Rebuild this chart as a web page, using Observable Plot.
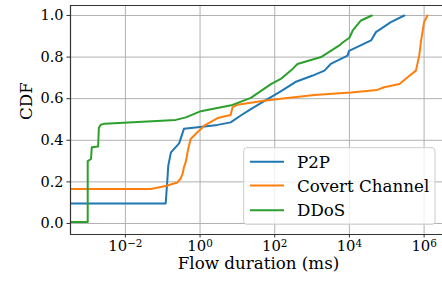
<!DOCTYPE html>
<html><head><meta charset="utf-8">
<script src="https://cdn.jsdelivr.net/npm/d3@7"></script>
<script src="https://cdn.jsdelivr.net/npm/@observablehq/plot@0.6"></script>
<style>body{margin:0;background:#fff} #chart svg{display:block;overflow:hidden}</style>
</head><body><div id="chart"></div>
<script>
const seriesNames = ["P2P", "Covert Channel", "DDoS"];
const seriesColors = ["#1f77b4", "#ff7f0e", "#2ca02c"];

const p2pDuration = [3e-4, 0.12, 0.132, 0.141, 0.166, 0.275, 0.37, 0.76, 2.95, 6.6, 12.3, 22.9, 67.6, 145, 355, 1000, 2140, 3160, 8900, 9770, 38000, 51300, 129000, 295000];
const p2pCdf      = [0.096, 0.096, 0.2, 0.278, 0.342, 0.385, 0.455, 0.462, 0.474, 0.486, 0.519, 0.55, 0.60, 0.635, 0.68, 0.71, 0.735, 0.767, 0.807, 0.83, 0.88, 0.92, 0.968, 1.0];

const covertDuration = [3e-4, 0.048, 0.12, 0.245, 0.30, 0.34, 0.37, 0.42, 0.48, 0.56, 0.76, 1.29, 2.95, 6.6, 7.4, 10, 52, 145, 1150, 11000, 56000, 85000, 219000, 363000, 603000, 741000, 832000, 1000000, 1230000];
const covertCdf      = [0.166, 0.166, 0.18, 0.197, 0.215, 0.238, 0.27, 0.30, 0.358, 0.406, 0.43, 0.47, 0.507, 0.522, 0.558, 0.571, 0.59, 0.60, 0.618, 0.63, 0.642, 0.655, 0.671, 0.703, 0.735, 0.807, 0.88, 0.968, 1.0];

const ddosDuration = [3e-4, 9.8e-4, 9.8e-4, 1.2e-3, 1.26e-3, 1.86e-3, 1.95e-3, 2.19e-3, 2.8e-3, 0.224, 0.417, 1.05, 7.4, 22.9, 79, 145, 269, 407, 1740, 5370, 6610, 10000, 12300, 20400, 39800];
const ddosCdf      = [0.007, 0.007, 0.30, 0.31, 0.366, 0.37, 0.46, 0.475, 0.48, 0.498, 0.51, 0.54, 0.57, 0.604, 0.67, 0.695, 0.735, 0.767, 0.80, 0.856, 0.87, 0.893, 0.928, 0.976, 1.0];

const xTicks = [1e-2, 1, 1e2, 1e4, 1e6];
const yTicks = [0, 0.2, 0.4, 0.6, 0.8, 1.0];
const xLabel = "Flow duration (ms)";
const yLabel = "CDF";

const seriesData = [[p2pDuration, p2pCdf], [covertDuration, covertCdf], [ddosDuration, ddosCdf]];
const rows = [];
seriesData.forEach(([dur, cdf], s) => dur.forEach((d, i) => rows.push({series: seriesNames[s], duration: d, cdf: cdf[i]})));

const xDomain = [3.39e-4, Math.pow(10, 6.6)];
const yDomain = [-0.053, 1.048];
const grid = {stroke: "#b0b0b0", strokeOpacity: 1, strokeWidth: 1};
const spine = {stroke: "#333", strokeWidth: 1.2};

const chart = Plot.plot({
  width: 442, height: 282,
  marginLeft: 70, marginTop: 5, marginBottom: 48, marginRight: -4,
  x: {type: "log", domain: xDomain},
  y: {domain: yDomain},
  color: {domain: seriesNames, range: seriesColors},
  style: {fontFamily: "'DejaVu Serif', serif", color: "#000", background: "#fff"},
  marks: [
    Plot.gridX(xTicks, grid),
    Plot.gridY(yTicks, grid),
    Plot.line(rows, {x: "duration", y: "cdf", z: "series", stroke: "series", strokeWidth: 2, clip: true}),
    Plot.ruleX([xDomain[0]], spine),
    Plot.ruleY([yDomain[0]], spine),
    Plot.ruleY([yDomain[1]], spine),
    Plot.axisX(xTicks, {tickSize: 3.5, tickPadding: 2.5, fontSize: 14.8, label: null, stroke: "#333",
      tickFormat: d => { const e = Math.round(Math.log10(d)); return "10|" + (e < 0 ? "\u2212" + (-e) : e); }}),
    Plot.axisY(yTicks, {tickSize: 3.5, tickPadding: 3.5, fontSize: 14.5, label: null, stroke: "#333", tickFormat: d3.format(".1f")}),
    Plot.text([xLabel], {text: d => d, frameAnchor: "bottom", dy: 34, fontSize: 16.7, fill: "#000"}),
    Plot.text([yLabel], {text: d => d, frameAnchor: "left", dx: -44, rotate: -90, fontSize: 16.7, fill: "#000"})
  ]
});

document.getElementById("chart").appendChild(chart);

// superscript exponents in x tick labels
d3.select(chart).selectAll('g[aria-label="x-axis tick label"] text').each(function() {
  const t = this.textContent;
  if (!t.includes("|")) return;
  const [base, exp] = t.split("|");
  const el = d3.select(this);
  el.text(null);
  el.append("tspan").text(base);
  el.append("tspan").attr("dy", "-0.42em").attr("font-size", "70%").text(exp);
});

// legend
const svg = d3.select(chart);
const lg = svg.append("g").attr("font-family", "'DejaVu Serif', serif").attr("font-size", 16.7).attr("text-anchor", "start");
lg.append("rect").attr("x", 243.7).attr("y", 147.7).attr("width", 191.3).attr("height", 76.6)
  .attr("rx", 3).attr("fill", "#fff").attr("fill-opacity", 0.8).attr("stroke", "#cccccc").attr("stroke-width", 1);
seriesNames.forEach((name, i) => {
  const y = [161.7, 185.5, 210.3][i];
  lg.append("line").attr("x1", 250).attr("x2", 284).attr("y1", y).attr("y2", y)
    .attr("stroke", seriesColors[i]).attr("stroke-width", 2);
  lg.append("text").attr("x", 297).attr("y", y).attr("dy", "0.36em").attr("text-anchor", "start").attr("fill", "#000").text(name);
});
</script>
</body></html>
